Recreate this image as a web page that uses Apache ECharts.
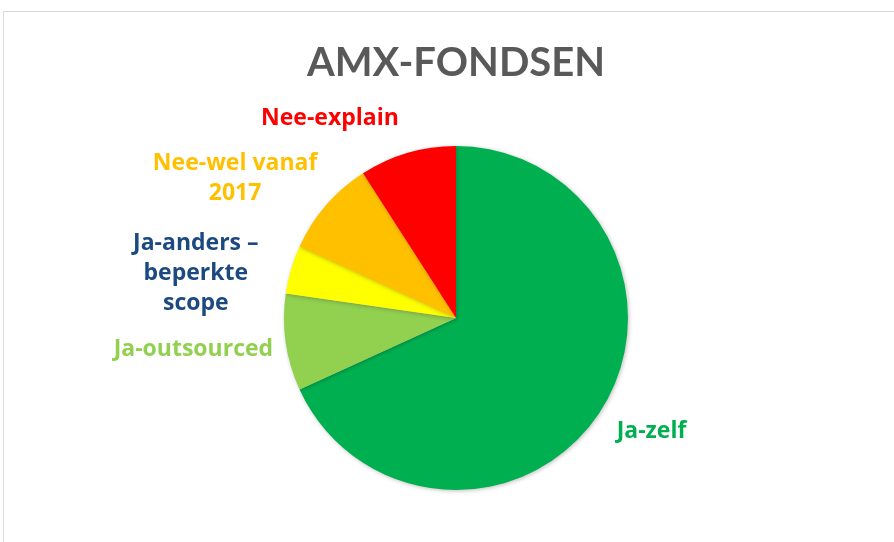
<!DOCTYPE html>
<html>
<head>
<meta charset="utf-8">
<script src="https://cdn.jsdelivr.net/npm/echarts@6/dist/echarts.min.js"></script>
<style>
html, body { margin: 0; padding: 0; background: #fff; }
#frame { position: absolute; left: 3px; top: 11px; width: 900px; height: 540px; border: 1px solid #d9d9d9; box-sizing: border-box; }
#container { position: absolute; left: 0; top: 0; width: 894px; height: 542px; }
</style>
</head>
<body>
<div id="frame"></div>
<div id="container"></div>
<script>
var titleText = 'AMX-FONDSEN';
var categories = ['Ja-zelf', 'Ja-outsourced', 'Ja-anders –\nbeperkte\nscope', 'Nee-wel vanaf\n2017', 'Nee-explain'];
var values = [15, 2, 1, 2, 2];
var sliceColors = ['#00B050', '#92D050', '#FFFF00', '#FFC000', '#FF0000'];
var labelColors = ['#00B050', '#92D050', '#1C4A80', '#FFC000', '#FF0000'];
// small label nudges (px) to mimic the original label placement
var labelDx = [-21, 30, 9, 25, 7];
var labelDy = [0, 2, 15, -2, 2];

var dom = document.getElementById('container');
var myChart = echarts.init(dom);

var data = [];
for (var i = 0; i < categories.length; i++) {
    data.push({
        name: categories[i],
        value: values[i],
        itemStyle: { color: sliceColors[i] },
        label: { color: labelColors[i] }
    });
}

var option = {
    animation: false,
    title: {
        text: titleText,
        left: 302,
        top: 38,
        textStyle: {
            fontFamily: 'Lato',
            fontWeight: 'bold',
            fontSize: 40,
            color: '#595959'
        }
    },
    series: [{
        type: 'pie',
        center: [456, 318],
        radius: 172,
        startAngle: 90,
        clockwise: true,
        data: data,
        itemStyle: {
            shadowBlur: 4,
            shadowColor: 'rgba(0,0,0,0.25)',
            shadowOffsetX: 1,
            shadowOffsetY: 1
        },
        label: {
            show: true,
            position: 'outside',
            fontFamily: 'Open Sans',
            fontWeight: 'bold',
            fontSize: 23,
            lineHeight: 30
        },
        labelLine: { show: false, length: 38, length2: 0 },
        labelLayout: function (p) {
            var r = p.labelRect;
            return {
                x: r.x + r.width / 2 + labelDx[p.dataIndex],
                y: r.y + r.height / 2 + labelDy[p.dataIndex],
                align: 'center',
                verticalAlign: 'middle'
            };
        }
    }]
};
myChart.setOption(option);
</script>
</body>
</html>
